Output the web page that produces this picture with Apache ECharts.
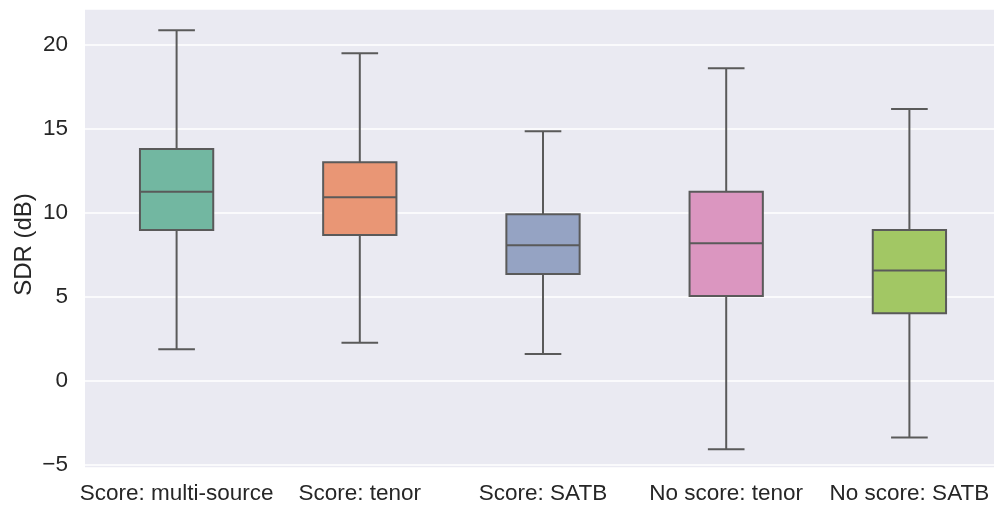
<!DOCTYPE html>
<html>
<head>
<meta charset="utf-8">
<script src="https://cdn.jsdelivr.net/npm/echarts@6/dist/echarts.min.js"></script>
<style>
  html, body { margin: 0; padding: 0; background: #ffffff; overflow: hidden; }
  #chart { width: 1001px; height: 509px; }
</style>
</head>
<body>
<div id="chart"></div>
<script>
// Conditions compared
const categories = ['Score: multi-source', 'Score: tenor', 'Score: SATB', 'No score: tenor', 'No score: SATB'];

// Five-number summaries of SDR (dB) per condition
const whiskerLow  = [1.89, 2.28, 1.61, -4.07, -3.37];
const quartile1   = [8.99, 8.69, 6.37, 5.06, 4.03];
const median      = [11.27, 10.93, 8.08, 8.20, 6.57];
const quartile3   = [13.81, 13.02, 9.92, 11.27, 8.99];
const whiskerHigh = [20.88, 19.50, 14.86, 18.61, 16.19];

// Box fill colours (muted Set2)
const boxColors = ['#72b7a1', '#e99675', '#95a3c3', '#db96c0', '#a2c764'];

const lineColor = '#5a5a5a';
const textColor = '#262626';
const fontFamily = '"Liberation Sans", Arial, sans-serif';

const seriesData = categories.map((c, i) => [i, whiskerLow[i], quartile1[i], median[i], quartile3[i], whiskerHigh[i]]);

function renderBox(params, api) {
  const idx = api.value(0);
  const band = api.size([1, 0])[0];
  const boxW = band * 0.4;
  const capW = band * 0.2;
  const pLow = api.coord([idx, api.value(1)]);
  const pQ1 = api.coord([idx, api.value(2)]);
  const pMed = api.coord([idx, api.value(3)]);
  const pQ3 = api.coord([idx, api.value(4)]);
  const pHigh = api.coord([idx, api.value(5)]);
  const x = pMed[0];
  const stroke = { stroke: lineColor, lineWidth: 2, fill: null };
  return {
    type: 'group',
    children: [
      { type: 'line', shape: { x1: x, y1: pQ1[1], x2: x, y2: pLow[1] }, style: stroke },
      { type: 'line', shape: { x1: x, y1: pQ3[1], x2: x, y2: pHigh[1] }, style: stroke },
      { type: 'line', shape: { x1: x - capW / 2, y1: pLow[1], x2: x + capW / 2, y2: pLow[1] }, style: stroke },
      { type: 'line', shape: { x1: x - capW / 2, y1: pHigh[1], x2: x + capW / 2, y2: pHigh[1] }, style: stroke },
      {
        type: 'rect',
        shape: { x: x - boxW / 2, y: pQ3[1], width: boxW, height: pQ1[1] - pQ3[1] },
        style: { fill: boxColors[idx], stroke: lineColor, lineWidth: 2 }
      },
      { type: 'line', shape: { x1: x - boxW / 2, y1: pMed[1], x2: x + boxW / 2, y2: pMed[1] }, style: stroke }
    ]
  };
}

const chart = echarts.init(document.getElementById('chart'), null, { renderer: 'canvas' });
chart.setOption({
  animation: false,
  backgroundColor: '#ffffff',
  grid: {
    left: 85, right: 0, top: 9, bottom: 41,
    show: true, backgroundColor: '#eaeaf2', borderWidth: 0
  },
  xAxis: {
    type: 'category',
    data: categories,
    boundaryGap: true,
    axisLine: { show: false },
    axisTick: { show: false },
    splitLine: { show: false },
    axisLabel: { color: textColor, fontSize: 22.5, fontFamily: fontFamily, margin: 14, interval: 0 }
  },
  yAxis: {
    type: 'value',
    min: -5.18,
    max: 22.14,
    splitNumber: 5,
    name: 'SDR (dB)',
    nameLocation: 'middle',
    nameGap: 49,
    nameMoveOverlap: false,
    nameTextStyle: { color: textColor, fontSize: 24, fontFamily: fontFamily, padding: [0, 12, 0, 0] },
    axisLine: { show: false },
    axisTick: { show: false },
    splitLine: { show: true, lineStyle: { color: '#ffffff', width: 1.5 } },
    axisLabel: {
      color: textColor, fontSize: 22.5, fontFamily: fontFamily, margin: 17,
      showMinLabel: false, showMaxLabel: false,
      formatter: v => (v < 0 ? '\u2212' + Math.abs(v) : String(v))
    }
  },
  series: [{
    type: 'custom',
    renderItem: renderBox,
    encode: { x: 0, y: [1, 2, 3, 4, 5] },
    data: seriesData,
    clip: false
  }]
});
</script>
</body>
</html>
